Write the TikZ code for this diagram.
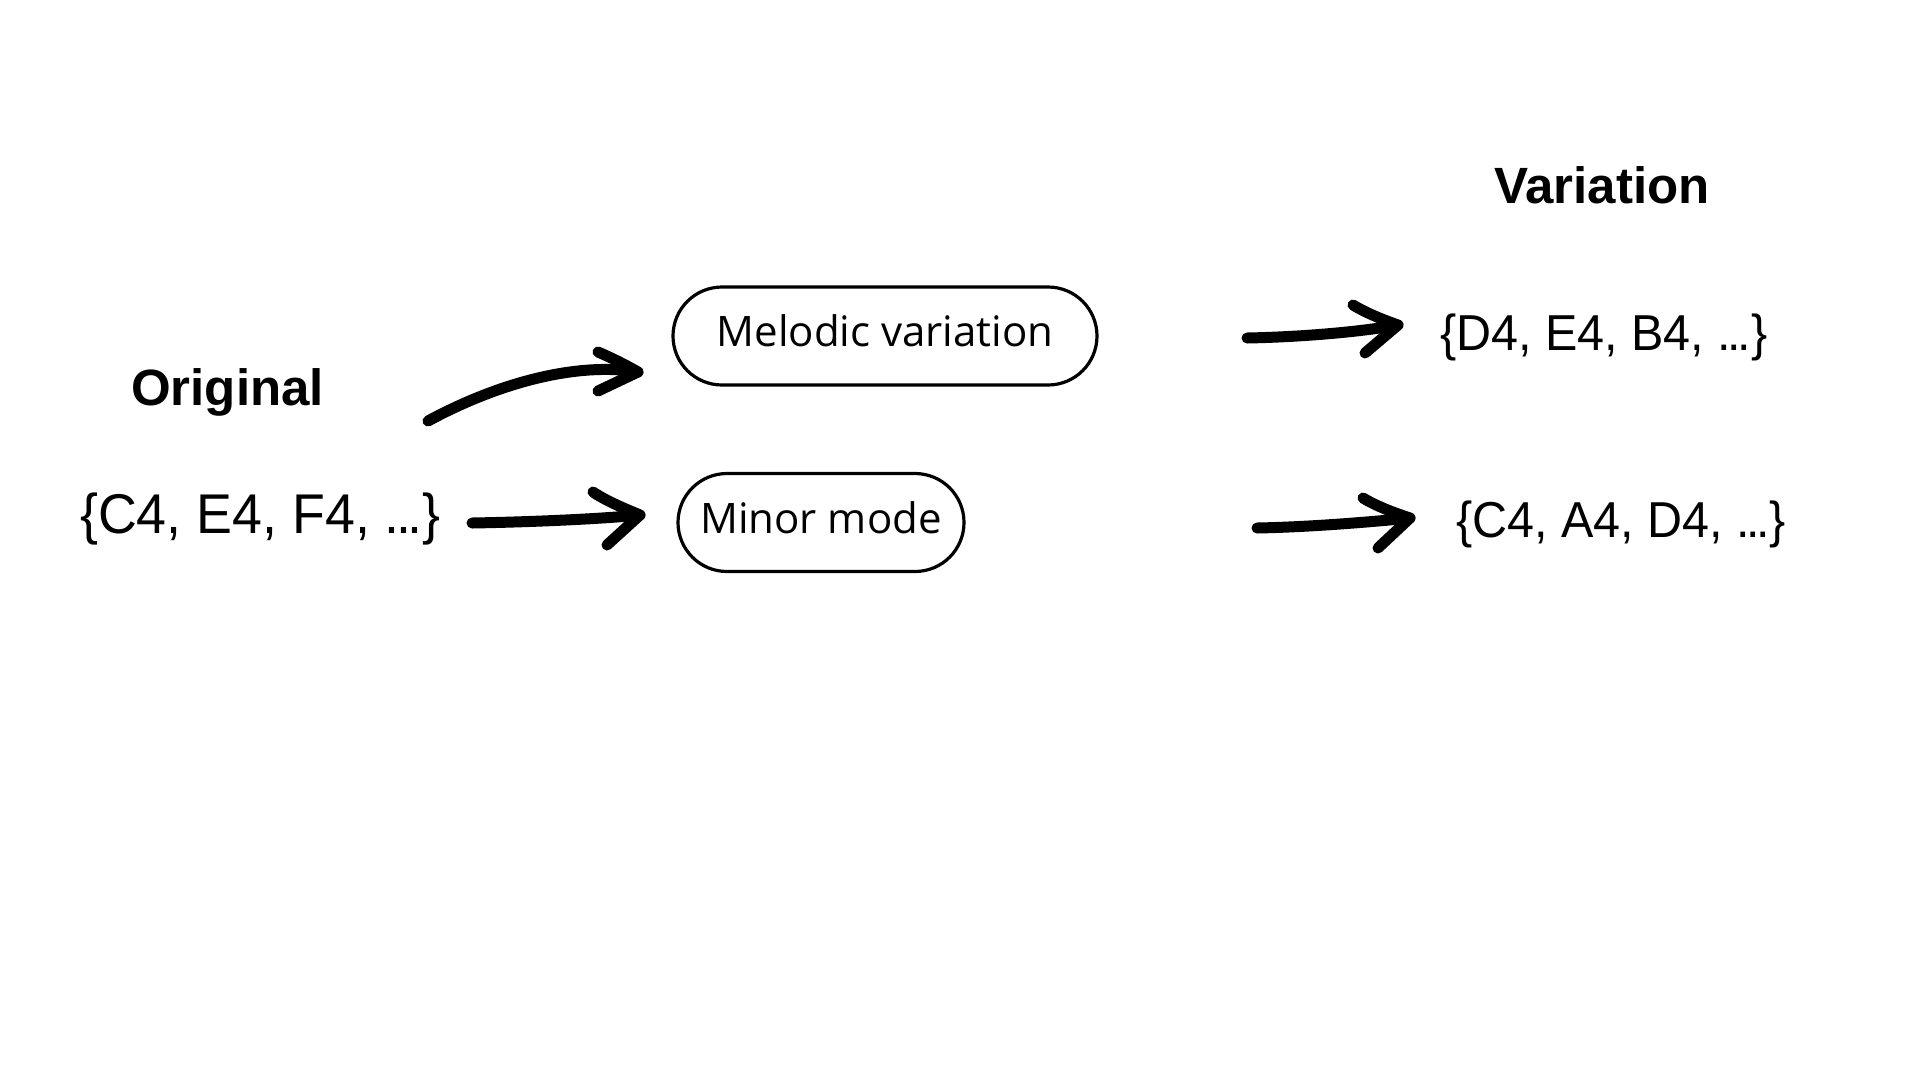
\documentclass[tikz,border=0pt]{standalone}
\usepackage{fontspec}
\setmainfont{Liberation Sans}
\newfontfamily\setfont[FakeStretch=0.96]{Liberation Sans}
\newfontfamily\headfont{Liberation Sans Bold}
\newfontfamily\boxfont{Open Sans}
\newcommand{\tightdots}{.\kern-0.07em.\kern-0.07em.}
\begin{document}
\begin{tikzpicture}[x=1pt,y=-1pt,
  head/.style={inner sep=0pt, anchor=base west, font=\headfont\fontsize{51}{55}\selectfont},
  setlbl/.style={inner sep=0pt, anchor=base west, font=\setfont\fontsize{#1}{#1}\selectfont},
  pill/.style={draw, line width=3.2pt, rounded corners=49pt, inner sep=0pt,
    minimum height=98pt, text depth=10pt, font=\boxfont\fontsize{42}{46}\selectfont},
  arr/.style={line width=11pt, line cap=round, line join=round}]
\useasboundingbox (0,0) rectangle (1920,1080);
\fill[white] (0,0) rectangle (1920,1080);

% texts
\node[head] (orig) at (131,405) {Original};
\node[head] (var) at (1494,203) {Variation};
\node[setlbl=56] (s0) at (80,533) {\{C4, E4, F4, \tightdots\}};
\node[setlbl=50.5] (s1) at (1440,350) {\{D4, E4, B4, \tightdots\}};
\node[setlbl=50.5] (s2) at (1456,537) {\{C4, A4, D4, \tightdots\}};

% boxes
\node[pill, minimum width=424pt] (mel) at (885,336) {Melodic variation};
\node[pill, minimum width=286pt] (min) at (821,522.5) {Minor mode};

% arrow ends
\coordinate (a1s) at (428,421); \coordinate (a1t) at (638,372);
\coordinate (a1u) at (598,352); \coordinate (a1d) at (598,391);
\coordinate (a2s) at (472,523); \coordinate (a2t) at (640,515);
\coordinate (a2u) at (593,492); \coordinate (a2d) at (607,545);
\coordinate (a3s) at (1247,338); \coordinate (a3t) at (1398,325);
\coordinate (a3u) at (1353,305); \coordinate (a3d) at (1365,353);
\coordinate (a4s) at (1257,528); \coordinate (a4t) at (1410,518);
\coordinate (a4u) at (1363,498); \coordinate (a4d) at (1378,548);

% arrows
\draw[arr] (a1s) .. controls (500,382) and (578,362) .. (a1t);
\draw[arr] (a1u) .. controls (612,358) and (626,365) .. (a1t) -- (a1d);
\draw[arr] (a2s) .. controls (530,522) and (600,519) .. (a2t);
\draw[arr] (a2u) .. controls (608,502) and (626,509) .. (a2t) -- (a2d);
\draw[arr] (a3s) .. controls (1300,337) and (1360,332) .. (a3t);
\draw[arr] (a3u) .. controls (1368,314) and (1384,320) .. (a3t) -- (a3d);
\draw[arr] (a4s) .. controls (1310,527) and (1370,522) .. (a4t);
\draw[arr] (a4u) .. controls (1378,507) and (1395,513) .. (a4t) -- (a4d);
\end{tikzpicture}
\end{document}
